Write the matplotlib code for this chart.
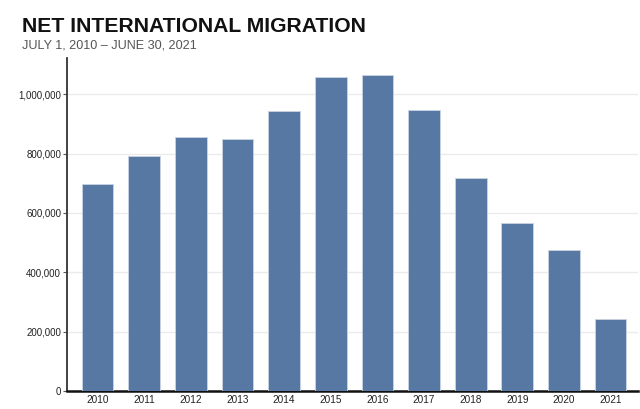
### Packages
import matplotlib
matplotlib.use("Agg")
import matplotlib.pyplot as plt
from matplotlib.ticker import FuncFormatter

### Data
years = ["2010", "2011", "2012", "2013", "2014", "2015",
         "2016", "2017", "2018", "2019", "2020", "2021"]
net_migration = [697000, 793000, 857000, 848000, 944000, 1058000,
                 1064000, 946000, 719000, 566000, 475000, 243000]
y_ticks = [0, 200000, 400000, 600000, 800000, 1000000]

title = "NET INTERNATIONAL MIGRATION"
subtitle = "JULY 1, 2010 \u2013 JUNE 30, 2021"

### Plot
plt.rcParams['font.family'] = ['Liberation Sans', 'DejaVu Sans']

fig = plt.figure(figsize=(6.4, 4.09), dpi=100)
ax = fig.add_axes([0.104, 0.044, 0.893, 0.814])

x = list(range(len(years)))
ax.bar(x, net_migration, width=0.68, color='#5878a4', edgecolor='#c9d3e2', linewidth=0.6, zorder=3)

ax.set_xlim(-0.665, 11.59)
ax.set_ylim(0, 1122000)
ax.set_yticks(y_ticks)
ax.yaxis.set_major_formatter(FuncFormatter(lambda v, p: "{:,}".format(int(v))))
ax.set_xticks(x)
ax.set_xticklabels(years)

ax.grid(axis='y', color='#ebebeb', linewidth=1, zorder=0)
for side in ['top', 'right']:
    ax.spines[side].set_visible(False)
ax.spines['left'].set_color('#333333')
ax.spines['left'].set_linewidth(1.3)
ax.spines['bottom'].set_color('#111111')
ax.spines['bottom'].set_linewidth(1.8)

ax.tick_params(axis='y', length=3, width=0.8, color='#555555', labelsize=7, labelcolor='#222222', pad=1)
ax.tick_params(axis='x', length=0, labelsize=7.2, labelcolor='#222222', pad=3)

fig.text(22 / 640, 1 - 17 / 409, title, fontsize=15.2, fontweight='bold', color='#111111', va='top', ha='left')
fig.text(22 / 640, 1 - 39.5 / 409, subtitle, fontsize=9.1, color='#555555', va='top', ha='left')

plt.savefig("out.png", dpi=100)
